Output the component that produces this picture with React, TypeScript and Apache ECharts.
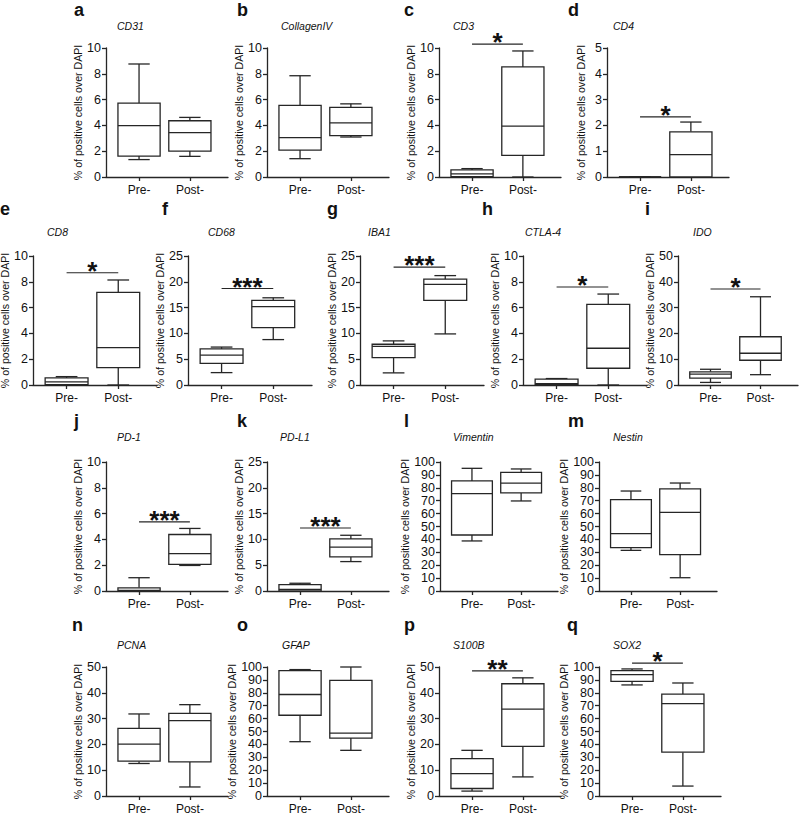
import React, { useEffect, useRef } from "react";
import * as echarts from "echarts";

// ---------- data ----------
const panelLetters = ["a", "b", "c", "d", "e", "f", "g", "h", "i", "j", "k", "l", "m", "n", "o", "p", "q"];
const markers = ["CD31", "CollagenIV", "CD3", "CD4", "CD8", "CD68", "IBA1", "CTLA-4", "IDO", "PD-1", "PD-L1", "Vimentin", "Nestin", "PCNA", "GFAP", "S100B", "SOX2"];
const groups = ["Pre-", "Post-"];
const yAxisTitle = "% of positive cells over DAPI";
const yMax = [10, 10, 10, 5, 10, 25, 25, 10, 50, 10, 25, 100, 100, 50, 100, 50, 100];
const yStep = [2, 2, 2, 1, 2, 5, 5, 2, 10, 2, 5, 10, 10, 10, 10, 10, 10];

// [min, Q1, median, Q3, max]
const preStats = [
  [1.35, 1.62, 3.99, 5.72, 8.76],
  [1.42, 2.09, 3.05, 5.55, 7.85],
  [0, 0.02, 0.25, 0.55, 0.65],
  [0, 0, 0, 0, 0],
  [0, 0.03, 0.25, 0.55, 0.65],
  [2.4, 4.2, 5.8, 7.0, 7.35],
  [2.35, 5.3, 7.5, 7.9, 8.55],
  [0, 0.02, 0.1, 0.45, 0.5],
  [1.0, 2.7, 4.2, 5.1, 6.1],
  [0, 0, 0.05, 0.25, 1.03],
  [0, 0.02, 0.3, 1.25, 1.5],
  [38.8, 43.4, 75.5, 85.3, 95.1],
  [31.5, 33.6, 44.4, 70.8, 77.5],
  [12.6, 13.5, 20.1, 26.2, 31.8],
  [42.1, 62.6, 78.7, 97.2, 98.0],
  [1.9, 2.9, 8.7, 14.5, 17.7],
  [86.1, 88.9, 94.1, 97.2, 98.5],
];
const postStats = [
  [1.6, 2.01, 3.44, 4.36, 4.62],
  [3.1, 3.2, 4.2, 5.4, 5.67],
  [0, 1.68, 3.95, 8.53, 9.77],
  [0, 0, 0.87, 1.75, 2.13],
  [0, 1.34, 2.89, 7.18, 8.14],
  [8.8, 11.1, 15.2, 16.4, 16.9],
  [9.9, 16.4, 19.5, 20.5, 21.2],
  [0, 1.3, 2.85, 6.25, 7.05],
  [4.0, 9.6, 12.3, 18.7, 34.2],
  [1.98, 2.06, 2.89, 4.38, 4.85],
  [5.7, 6.6, 8.5, 10.1, 10.8],
  [69.8, 76.0, 83.7, 92.0, 94.6],
  [10.3, 28.2, 61.0, 79.1, 83.7],
  [3.5, 13.2, 29.2, 32.0, 35.4],
  [35.4, 44.9, 48.7, 89.7, 100],
  [7.4, 19.2, 33.7, 43.5, 45.8],
  [7.7, 34.0, 71.6, 78.9, 87.6],
];
const sigLevel = [null, null, 10.3, 2.33, 8.7, 18.7, 22.85, 7.6, 37.2, 5.36, 12.2, null, null, null, null, 48.5, 103];
const sigText = ["", "", "*", "*", "*", "***", "***", "*", "*", "***", "***", "", "", "", "", "**", "*"];

// ---------- layout ----------
const gridLeft = [106, 267, 439, 607, 33, 188, 360, 523, 678, 106, 267, 440, 599, 106, 267, 439, 599];
const gridTop = [48, 48, 48, 48, 256, 256, 256, 256, 256, 462, 462, 462, 462, 667, 667, 667, 667];
const gridWidth = [122, 122, 122, 122, 124, 124, 124, 124, 120, 122, 122, 118, 118, 122, 122, 122, 122];
const letterPos = [
  [74, 1], [237, 1], [404, 1], [568, 1],
  [0, 200], [162, 200], [327, 200], [482, 200], [645, 200],
  [74, 412], [237, 412], [404, 412], [568, 412],
  [72, 616], [237, 616], [404, 616], [567, 616],
];
const genePos = [
  [117, 20], [281, 20], [453, 20], [613, 20],
  [47, 226], [208, 226], [368, 226], [525, 226], [693, 226],
  [117, 431], [280, 431], [453, 431], [613, 431],
  [117, 639], [282, 639], [453, 639], [613, 639],
];

const FONT = "'Liberation Sans', Arial, sans-serif";
const INK = "#262626";

function buildOption() {
  const grid: any[] = [];
  const xAxis: any[] = [];
  const yAxis: any[] = [];
  const series: any[] = [];
  const title: any[] = [];

  panelLetters.forEach((letter, i) => {
    grid.push({
      left: gridLeft[i],
      top: gridTop[i],
      width: gridWidth[i],
      height: 129,
      containLabel: false,
      outerBoundsMode: "none",
    });
    xAxis.push({
      type: "value",
      gridIndex: i,
      min: -0.65,
      max: 1.75,
      splitLine: { show: false },
      axisLine: { show: true, onZero: false, lineStyle: { color: INK, width: 1.3 } },
      axisTick: { show: true, customValues: [0, 1], length: 4, lineStyle: { color: INK, width: 1.3 } },
      axisLabel: {
        show: true,
        customValues: [0, 1],
        formatter: (v: number) => groups[Math.round(v)] ?? "",
        margin: 7,
        fontSize: 12,
        color: "#111",
        fontFamily: FONT,
      },
    });
    yAxis.push({
      type: "value",
      gridIndex: i,
      min: 0,
      max: yMax[i],
      interval: yStep[i],
      splitLine: { show: false },
      axisLine: { show: true, onZero: false, lineStyle: { color: INK, width: 1.3 } },
      axisTick: { show: true, length: 4, lineStyle: { color: INK, width: 1.3 } },
      axisLabel: { margin: 5, fontSize: 12.5, color: "#111", fontFamily: FONT },
      name: yAxisTitle,
      nameLocation: "middle",
      nameRotate: 90,
      nameGap: 21,
      nameTextStyle: { fontSize: 10.6, color: "#111", fontFamily: FONT },
    });
    title.push({
      text: letter,
      left: letterPos[i][0],
      top: letterPos[i][1],
      padding: 0,
      textStyle: { fontSize: 18, fontWeight: "bold", color: "#111", fontFamily: FONT },
    });
    title.push({
      text: markers[i],
      left: genePos[i][0],
      top: genePos[i][1],
      padding: 0,
      textStyle: { fontSize: 10.5, fontStyle: "italic", fontWeight: "normal", color: "#111", fontFamily: FONT },
    });

    series.push({
      type: "custom",
      xAxisIndex: i,
      yAxisIndex: i,
      clip: false,
      silent: true,
      data: [
        [0, ...preStats[i]],
        [1, ...postStats[i]],
      ],
      encode: { x: 0, y: [1, 2, 3, 4, 5] },
      renderItem: (params: any, api: any) => {
        const x = api.value(0);
        const v = [1, 2, 3, 4, 5].map((d) => api.value(d));
        const unit = api.size([1, 0])[0];
        const hw = unit * 0.415;
        const cw = unit * 0.21;
        const pMin = api.coord([x, v[0]]);
        const pQ1 = api.coord([x, v[1]]);
        const pMed = api.coord([x, v[2]]);
        const pQ3 = api.coord([x, v[3]]);
        const pMax = api.coord([x, v[4]]);
        const cx = pMed[0];
        const st = { stroke: INK, lineWidth: 1.3, fill: null };
        return {
          type: "group",
          children: [
            { type: "line", shape: { x1: cx, y1: pMax[1], x2: cx, y2: pQ3[1] }, style: st },
            { type: "line", shape: { x1: cx, y1: pQ1[1], x2: cx, y2: pMin[1] }, style: st },
            { type: "line", shape: { x1: cx - cw, y1: pMax[1], x2: cx + cw, y2: pMax[1] }, style: st },
            { type: "line", shape: { x1: cx - cw, y1: pMin[1], x2: cx + cw, y2: pMin[1] }, style: st },
            {
              type: "rect",
              shape: { x: cx - hw, y: pQ3[1], width: 2 * hw, height: pQ1[1] - pQ3[1] },
              style: { stroke: INK, lineWidth: 1.3, fill: "#fff" },
            },
            { type: "line", shape: { x1: cx - hw, y1: pMed[1], x2: cx + hw, y2: pMed[1] }, style: st },
          ],
        };
      },
    });

    if (sigLevel[i] !== null) {
      const label = sigText[i];
      series.push({
        type: "custom",
        xAxisIndex: i,
        yAxisIndex: i,
        clip: false,
        silent: true,
        data: [[0, 1, sigLevel[i]]],
        encode: { x: [0, 1], y: 2 },
        renderItem: (params: any, api: any) => {
          const p0 = api.coord([api.value(0), api.value(2)]);
          const p1 = api.coord([api.value(1), api.value(2)]);
          return {
            type: "group",
            children: [
              { type: "line", shape: { x1: p0[0], y1: p0[1], x2: p1[0], y2: p1[1] }, style: { stroke: INK, lineWidth: 1.1 } },
              {
                type: "text",
                style: {
                  text: label,
                  x: (p0[0] + p1[0]) / 2,
                  y: p0[1] - 2,
                  align: "center",
                  verticalAlign: "middle",
                  fontSize: 26,
                  fontWeight: "bold",
                  fontFamily: FONT,
                  fill: "#111",
                },
              },
            ],
          };
        },
      });
    }
  });

  return {
    animation: false,
    backgroundColor: "#ffffff",
    textStyle: { fontFamily: FONT },
    title,
    grid,
    xAxis,
    yAxis,
    series,
  };
}

export default function App() {
  const ref = useRef<HTMLDivElement>(null);
  useEffect(() => {
    if (!ref.current) return;
    const chart = echarts.init(ref.current, undefined, { renderer: "svg" });
    chart.setOption(buildOption() as any);
    return () => chart.dispose();
  }, []);
  return (
    <div
      ref={ref}
      style={{ position: "fixed", left: 0, top: 0, width: 800, height: 816, background: "#fff" }}
    />
  );
}
